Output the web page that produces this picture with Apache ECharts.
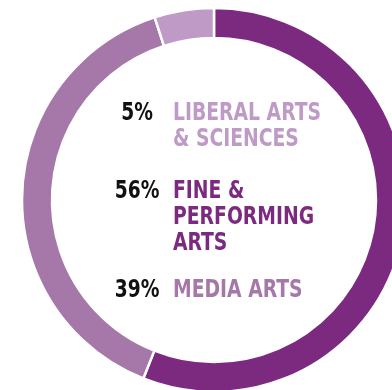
<!DOCTYPE html>
<html>
<head>
<meta charset="utf-8">
<script src="https://cdn.jsdelivr.net/npm/echarts@6/dist/echarts.min.js"></script>
<style>
  html, body { margin: 0; padding: 0; background: #ffffff; }
  #chart { width: 392px; height: 390px; }
</style>
</head>
<body>
<div id="chart"></div>
<script>
// Share of students by school (percent)
const schools = ['FINE & PERFORMING ARTS', 'MEDIA ARTS', 'LIBERAL ARTS & SCIENCES'];
const shares = [56, 39, 5];
const colors = ['#7b2a80', '#a678a9', '#bf9ac6'];
// Centre legend: which school each row shows, and its wrapped lines
const legendOrder = [2, 0, 1];
const legendLines = [
  ['LIBERAL ARTS', '& SCIENCES'],
  ['FINE &', 'PERFORMING', 'ARTS'],
  ['MEDIA ARTS']
];

const chart = echarts.init(document.getElementById('chart'), null, { renderer: 'canvas' });

// Condensed heavy look: condensed bold sans, squeezed a little more
const FAMILY = '"DejaVu Sans Condensed", "DejaVu Sans", sans-serif';
const SIZE = 25;
const nameSquash = 0.835;
const pctSquash = 0.83;
const lineStep = 26;
const rowTops = [102, 180, 279];
const pctCenterX = 137;
const nameLeftX = 173;
const capOffset = 1;

const graphics = [];
legendOrder.forEach((idx, row) => {
  const top = rowTops[row] - capOffset;
  graphics.push({
    type: 'text',
    x: pctCenterX, y: top,
    scaleX: pctSquash,
    style: {
      text: shares[idx] + '%',
      fontFamily: FAMILY, fontSize: SIZE, fontWeight: 'bold',
      fill: '#111111',
      align: 'center',
      verticalAlign: 'top'
    }
  });
  legendLines[row].forEach((ln, k) => {
    graphics.push({
      type: 'text',
      x: nameLeftX, y: top + k * lineStep,
      scaleX: nameSquash,
      style: {
        text: ln,
        fontFamily: FAMILY, fontSize: SIZE, fontWeight: 'bold',
        fill: colors[idx],
        align: 'left',
        verticalAlign: 'top'
      }
    });
  });
});

chart.setOption({
  animation: false,
  backgroundColor: '#ffffff',
  series: [{
    type: 'pie',
    center: [214, 200],
    radius: [162, 192],
    startAngle: 90,
    clockwise: true,
    silent: true,
    label: { show: false },
    labelLine: { show: false },
    itemStyle: { borderColor: '#ffffff', borderWidth: 2.5 },
    data: schools.map((s, i) => ({ name: s, value: shares[i], itemStyle: { color: colors[i] } }))
  }],
  graphic: graphics
});
</script>
</body>
</html>
